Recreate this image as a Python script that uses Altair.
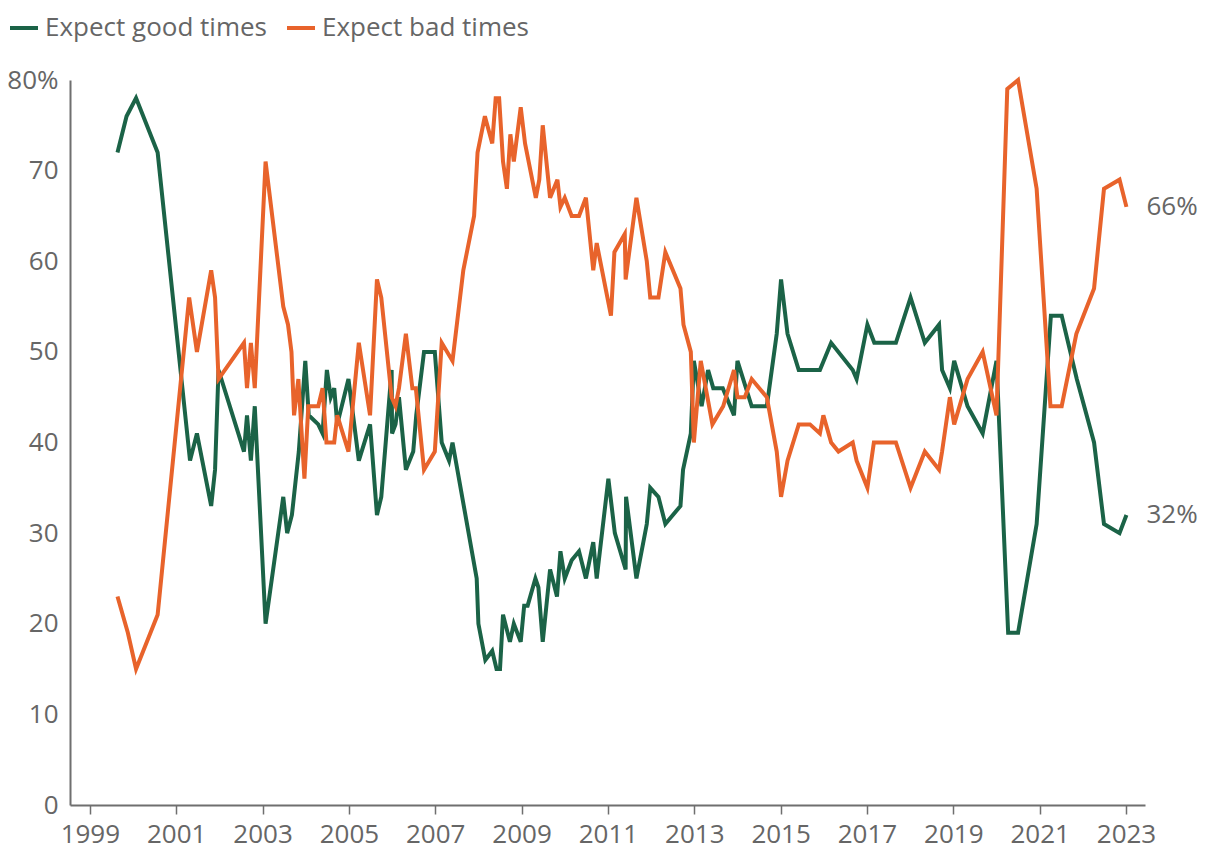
import altair as alt
import pandas as pd

series_names = ["Expect good times", "Expect bad times"]
series_colors = ["#1b6347", "#e8632b"]

good_years = [1999.64, 1999.85, 2000.07, 2000.57, 2001.32, 2001.48, 2001.81, 2001.90, 2001.98,
              2002.57, 2002.64, 2002.73, 2002.82, 2003.07, 2003.48, 2003.57, 2003.68, 2003.84,
              2003.99, 2004.07, 2004.29, 2004.39, 2004.49, 2004.58, 2004.66, 2004.73, 2004.99,
              2005.23, 2005.49, 2005.65, 2005.75, 2005.99, 2006.00, 2006.08, 2006.16, 2006.32,
              2006.49, 2006.56, 2006.74, 2006.99, 2007.15, 2007.32, 2007.40, 2007.96, 2008.00,
              2008.16, 2008.32, 2008.42, 2008.50, 2008.57, 2008.73, 2008.82, 2008.98, 2009.06,
              2009.14, 2009.32, 2009.39, 2009.49, 2009.66, 2009.82, 2009.90, 2010.00, 2010.16,
              2010.33, 2010.49, 2010.66, 2010.74, 2011.01, 2011.16, 2011.41, 2011.42, 2011.66,
              2011.90, 2011.98, 2012.17, 2012.33, 2012.68, 2012.74, 2012.92, 2012.99, 2013.17,
              2013.32, 2013.44, 2013.66, 2013.92, 2014.00, 2014.33, 2014.68, 2014.91, 2015.01,
              2015.16, 2015.42, 2015.91, 2016.17, 2016.67, 2016.76, 2017.01, 2017.17, 2017.67,
              2018.01, 2018.34, 2018.67, 2018.74, 2018.92, 2019.02, 2019.33, 2019.68, 2020.00,
              2020.27, 2020.50, 2020.93, 2021.26, 2021.51, 2021.86, 2022.26, 2022.49, 2022.85,
              2023.01]
good_values = [72, 76, 78, 72, 38, 41, 33, 37, 48,
               39, 43, 38, 44, 20, 34, 30, 32, 39,
               49, 43, 42, 41, 48, 45, 46, 42, 47,
               38, 42, 32, 34, 48, 41, 42, 45, 37,
               39, 43, 50, 50, 40, 38, 40, 25, 20,
               16, 17, 15, 15, 21, 18, 20, 18, 22,
               22, 25, 24, 18, 26, 23, 28, 25, 27,
               28, 25, 29, 25, 36, 30, 26, 34, 25,
               31, 35, 34, 31, 33, 37, 41, 49, 44,
               48, 46, 46, 43, 49, 44, 44, 52, 58,
               52, 48, 48, 51, 48, 47, 53, 51, 51,
               56, 51, 53, 48, 46, 49, 44, 41, 49,
               19, 19, 31, 54, 54, 47, 40, 31, 30,
               32]

bad_years = [1999.64, 1999.88, 2000.07, 2000.57, 2001.30, 2001.48, 2001.81, 2001.90, 2001.98,
             2002.57, 2002.64, 2002.73, 2002.82, 2003.07, 2003.48, 2003.59, 2003.67, 2003.73,
             2003.83, 2003.97, 2004.06, 2004.29, 2004.39, 2004.48, 2004.66, 2004.73, 2004.99,
             2005.23, 2005.49, 2005.65, 2005.75, 2005.99, 2006.08, 2006.16, 2006.32, 2006.47,
             2006.55, 2006.74, 2006.99, 2007.15, 2007.40, 2007.65, 2007.90, 2007.98, 2008.15,
             2008.32, 2008.40, 2008.48, 2008.57, 2008.66, 2008.74, 2008.82, 2008.98, 2009.08,
             2009.33, 2009.41, 2009.49, 2009.66, 2009.83, 2009.90, 2010.00, 2010.16, 2010.33,
             2010.49, 2010.66, 2010.74, 2011.07, 2011.15, 2011.39, 2011.41, 2011.66, 2011.90,
             2011.98, 2012.17, 2012.33, 2012.68, 2012.75, 2012.92, 2012.99, 2013.15, 2013.42,
             2013.67, 2013.92, 2014.00, 2014.17, 2014.33, 2014.68, 2014.91, 2015.01, 2015.16,
             2015.42, 2015.68, 2015.91, 2015.99, 2016.17, 2016.34, 2016.67, 2016.76, 2017.01,
             2017.16, 2017.67, 2018.01, 2018.34, 2018.67, 2018.74, 2018.92, 2019.02, 2019.33,
             2019.68, 2020.00, 2020.25, 2020.50, 2020.93, 2021.25, 2021.51, 2021.85, 2022.26,
             2022.49, 2022.85, 2023.01]
bad_values = [23, 19, 15, 21, 56, 50, 59, 56, 47,
              51, 46, 51, 46, 71, 55, 53, 50, 43,
              47, 36, 44, 44, 46, 40, 40, 43, 39,
              51, 43, 58, 56, 45, 44, 46, 52, 46,
              46, 37, 39, 51, 49, 59, 65, 72, 76,
              73, 78, 78, 71, 68, 74, 71, 77, 73,
              67, 69, 75, 67, 69, 66, 67, 65, 65,
              67, 59, 62, 54, 61, 63, 58, 67, 60,
              56, 56, 61, 57, 53, 50, 40, 49, 42,
              44, 48, 45, 45, 47, 45, 39, 34, 38,
              42, 42, 41, 43, 40, 39, 40, 38, 35,
              40, 40, 35, 39, 37, 39, 45, 42, 47,
              50, 43, 79, 80, 68, 44, 44, 52, 57,
              68, 69, 66]

end_labels = ["32%", "66%"]
year_ticks = [1999, 2001, 2003, 2005, 2007, 2009, 2011, 2013, 2015, 2017, 2019, 2021, 2023]
value_ticks = [0, 10, 20, 30, 40, 50, 60, 70, 80]

df = pd.concat([
    pd.DataFrame({"year": good_years, "value": good_values, "series": series_names[0]}),
    pd.DataFrame({"year": bad_years, "value": bad_values, "series": series_names[1]}),
], ignore_index=True)

end_df = pd.DataFrame({
    "year": [good_years[-1], bad_years[-1]],
    "value": [good_values[-1], bad_values[-1]],
    "series": series_names,
    "label": end_labels,
})

axis_gray = "#6f6f6f"
label_gray = "#666666"
font_size = 26

x_enc = alt.X(
    "year:Q",
    scale=alt.Scale(domain=[1998.54, 2023.44], nice=False, zero=False),
    axis=alt.Axis(values=year_ticks, format="d", grid=False, title=None,
                  tickSize=9, tickWidth=1.5, tickColor=axis_gray,
                  domainColor=axis_gray, domainWidth=2,
                  labelPadding=7, labelFontSize=font_size, labelColor=label_gray,
                  labelFlush=False),
)
y_enc = alt.Y(
    "value:Q",
    scale=alt.Scale(domain=[0, 80], nice=False),
    axis=alt.Axis(values=value_ticks, grid=False, title=None, ticks=False,
                  domainColor=axis_gray, domainWidth=2,
                  labelExpr="datum.value == 80 ? '80%' : datum.label",
                  labelPadding=12, labelFontSize=font_size, labelColor=label_gray),
)

lines = alt.Chart(df).mark_line(strokeWidth=4, strokeJoin="miter").encode(
    x=x_enc,
    y=y_enc,
    color=alt.Color(
        "series:N",
        sort=series_names,
        scale=alt.Scale(domain=series_names, range=series_colors),
        legend=alt.Legend(orient="none", legendX=-62, legendY=-68,
                          direction="horizontal", title=None, padding=0,
                          symbolType="stroke", symbolSize=784,
                          symbolStrokeWidth=4, labelFontSize=font_size,
                          labelColor=label_gray, labelOffset=5,
                          labelLimit=0, columnPadding=12),
    ),
    detail="series:N",
)

labels = alt.Chart(end_df).mark_text(
    align="left", baseline="middle", dx=20, fontSize=font_size, color=label_gray
).encode(
    x=alt.X("year:Q"),
    y=alt.Y("value:Q"),
    text="label:N",
)

chart = alt.layer(lines, labels).properties(
    width=1075,
    height=725,
    autosize=alt.AutoSizeParams(type="none"),
    padding={"left": 62, "top": 72, "right": 58, "bottom": 47},
).configure(
    font="Open Sans",
).configure_view(
    stroke=None,
)

chart.save("out.html", embed_options={"renderer": "svg", "actions": False})
